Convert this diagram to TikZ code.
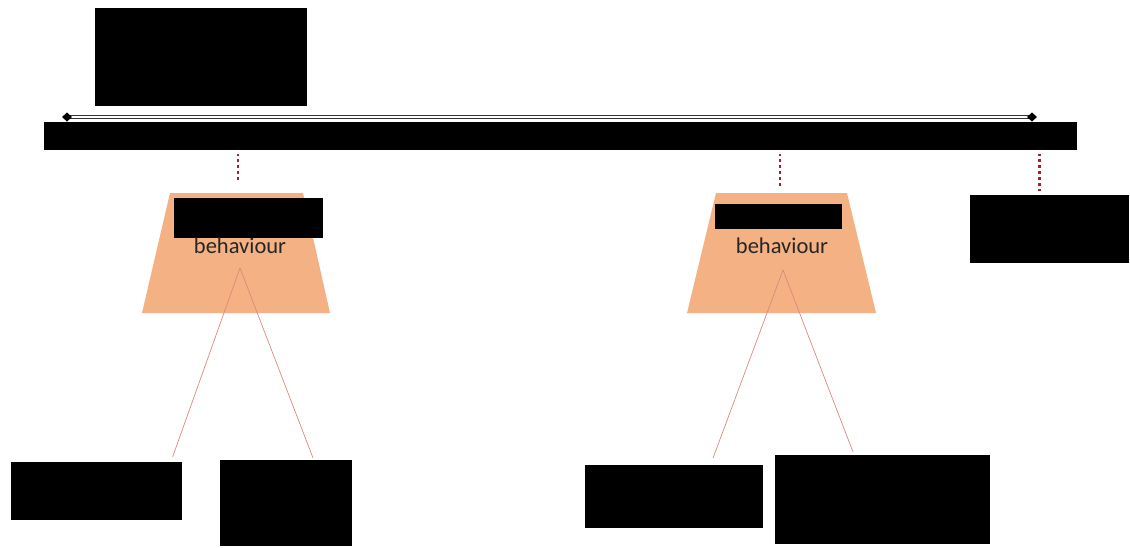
\documentclass[tikz,border=0pt]{standalone}
\usepackage{tikz}
\usetikzlibrary{positioning, arrows.meta}
\usepackage{xcolor}
\usepackage{fontspec}
\setmainfont{Carlito}

\definecolor{peach}{HTML}{F4B183}
\definecolor{dotred}{HTML}{A3202C}
\definecolor{linkred}{HTML}{D98A80}

\begin{document}
\begin{tikzpicture}[x=0.025cm, y=-0.025cm]
                % Styles
                \tikzstyle{hidden} = [rectangle, fill=black, draw=none, inner sep=0pt, anchor=north west]
                \tikzstyle{tier} = [fill=peach, draw=none]
                \tikzstyle{caption} = [font=\fontsize{16}{18}\selectfont, text=black!85]
                \tikzstyle{axisouter} = [draw=black!80, line width=2.6pt]
                \tikzstyle{axisinner} = [draw=white, line width=0.9pt]
                \tikzstyle{tie} = [dotred, line width=2.1pt, dash pattern=on 2pt off 2.2pt]
                \tikzstyle{link} = [linkred, line width=0.5pt]

                \useasboundingbox (0,0) rectangle (1130,547);

                % Trapezium blocks
                \fill [tier] (142,313) -- (170,193) -- (303,193) -- (330,313) -- cycle;
                \fill [tier] (687,313) -- (716,193) -- (847,193) -- (876,313) -- cycle;

                % Nodes
                \node (title) [hidden, minimum width=5.3cm, minimum height=2.45cm] at (95,8) {};
                \node (bar) [hidden, minimum width=25.8cm, minimum height=0.7cm] at (44,122) {};
                \node (headA) [hidden, minimum width=3.725cm, minimum height=1cm] at (174,198) {};
                \node (headB) [hidden, minimum width=3.175cm, minimum height=0.625cm] at (715,204) {};
                \node (behA) [caption] at (240,246) {behaviour};
                \node (behB) [caption] at (782,246) {behaviour};
                \node (side) [hidden, minimum width=3.975cm, minimum height=1.7cm] at (970,195) {};
                \node (leafA1) [hidden, minimum width=4.275cm, minimum height=1.45cm] at (11,462) {};
                \node (leafA2) [hidden, minimum width=3.3cm, minimum height=2.15cm] at (220,460) {};
                \node (leafB1) [hidden, minimum width=4.45cm, minimum height=1.575cm] at (585,465) {};
                \node (leafB2) [hidden, minimum width=5.375cm, minimum height=2.225cm] at (775,455) {};

                \coordinate (axisL) at (67,117);
                \coordinate (axisR) at (1032,117);
                \coordinate (tipA) at (240,268);
                \coordinate (tipB) at (783,270);

                % Paths
                \draw [axisouter] (axisL) -- (axisR);
                \draw [axisinner] (axisL) -- (axisR);
                \fill [black] (axisL) +(-5,0) -- +(0,-4.5) -- +(5,0) -- +(0,4.5) -- cycle;
                \fill [black] (axisR) +(-5,0) -- +(0,-4.5) -- +(5,0) -- +(0,4.5) -- cycle;
                \draw [tie] (bar.south -| tipA) ++(-2,3) -- ++(0,27);
                \draw [tie] (bar.south -| tipB) ++(-3,3) -- ++(0,32);
                \draw [tie] (bar.south -| side.north) ++(-10.5,3) -- ++(0,37);
                \draw [link] (tipA) -- ([xshift=-0.25cm, yshift=0.125cm]leafA1.north east);
                \draw [link] (tipA) -- ([xshift=2.325cm, yshift=0.05cm]leafA2.north west);
                \draw [link] (tipB) -- ([xshift=3.2cm, yshift=0.175cm]leafB1.north west);
                \draw [link] (tipB) -- ([xshift=1.95cm, yshift=0.075cm]leafB2.north west);

\end{tikzpicture}
\end{document}
